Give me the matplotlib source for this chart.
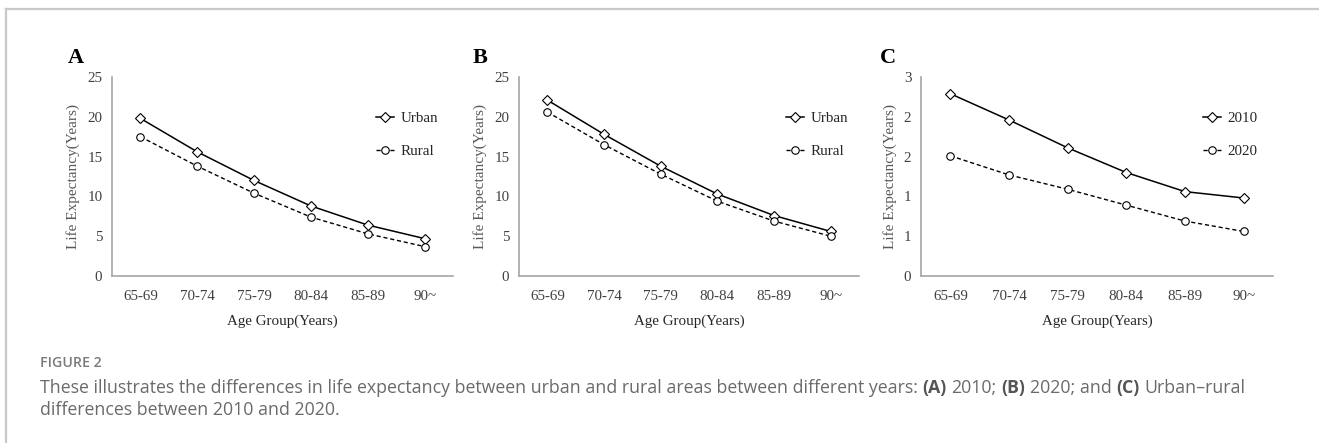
import matplotlib
matplotlib.use("Agg")
import matplotlib.pyplot as plt
from matplotlib.lines import Line2D

# ---- data ----
age_groups = ["65-69", "70-74", "75-79", "80-84", "85-89", "90~"]

urban_2010 = [19.8, 15.6, 12.0, 8.8, 6.4, 4.7]
rural_2010 = [17.5, 13.8, 10.4, 7.4, 5.3, 3.7]

urban_2020 = [22.1, 17.8, 13.8, 10.3, 7.6, 5.6]
rural_2020 = [20.6, 16.5, 12.8, 9.4, 6.9, 5.0]

diff_2010 = [2.29, 1.96, 1.61, 1.30, 1.06, 0.98]
diff_2020 = [1.51, 1.27, 1.09, 0.89, 0.69, 0.56]

ab_ticks = [0, 5, 10, 15, 20, 25]
ab_tick_labels = ["0", "5", "10", "15", "20", "25"]
c_ticks = [0, 0.5, 1.0, 1.5, 2.0, 2.5]
c_tick_labels = ["0", "1", "1", "2", "2", "3"]  # rounded as in the source

panels = [
    ("A", urban_2010, rural_2010, ("Urban", "Rural"), ab_ticks, ab_tick_labels),
    ("B", urban_2020, rural_2020, ("Urban", "Rural"), ab_ticks, ab_tick_labels),
    ("C", diff_2010, diff_2020, ("2010", "2020"), c_ticks, c_tick_labels),
]

W, H = 1319, 443
fig = plt.figure(figsize=(W / 100, H / 100), dpi=100)

# axes boxes in pixels: left, right, top, bottom
boxes = [(112, 453, 77, 276), (519, 859, 77, 276), (921, 1273, 77, 276)]
label_x = [76, 480, 888]
legend_x = [0.775, 0.786, 0.802]
ylabel_off = [32, 32, 24]

serif = "Liberation Serif"
axis_col = "#a6a6a6"
tick_col = "#404040"

for (tag, s1, s2, names, ticks, tlabels), (l, r, t, b), lx, lgx, yoff in zip(
        panels, boxes, label_x, legend_x, ylabel_off):
    ax = fig.add_axes([l / W, 1 - b / H, (r - l) / W, (b - t) / H])
    x = range(len(age_groups))
    ax.plot(x, s1, color="black", lw=1.1, marker="D", ms=4.8, mfc="white",
            mec="black", mew=0.8, label=names[0])
    ax.plot(x, s2, color="black", lw=1.0, ls=(0, (3, 2)), marker="o", ms=5.4,
            mfc="white", mec="black", mew=0.8, label=names[1])

    ax.set_xlim(-0.5, len(age_groups) - 0.5)
    ax.set_ylim(0, ticks[-1])
    ax.set_xticks(list(x))
    ax.set_xticklabels(age_groups, fontfamily=serif, fontsize=10.8, color=tick_col)
    ax.set_yticks(ticks)
    ax.set_yticklabels(tlabels, fontfamily=serif, fontsize=10.8, color=tick_col)
    ax.tick_params(axis="both", length=0)
    ax.tick_params(axis="x", pad=10)
    ax.tick_params(axis="y", pad=7)

    for side in ["top", "right"]:
        ax.spines[side].set_visible(False)
    for side in ["left", "bottom"]:
        ax.spines[side].set_color(axis_col)
        ax.spines[side].set_linewidth(1.2)
    ax.patch.set_visible(False)

    ax.set_ylabel("Life Expectancy(Years)", fontfamily=serif, fontsize=11,
                  color="#595959")
    ax.yaxis.set_label_coords(-yoff / (r - l), 0.5)
    ax.set_xlabel("Age Group(Years)", fontfamily=serif, fontsize=10.8,
                  color="#262626")
    ax.xaxis.set_label_coords(0.5, -(315 - b) / (b - t))

    leg = ax.legend(loc="upper left", bbox_to_anchor=(lgx, 0.825), frameon=False,
                    prop={"family": serif, "size": 10.8}, handlelength=1.2,
                    handletextpad=0.4, labelspacing=1.3, borderpad=0,
                    borderaxespad=0, numpoints=1)
    for txt in leg.get_texts():
        txt.set_color("#262626")

    fig.text(lx / W, 1 - 58 / H, tag, fontfamily=serif, fontweight="bold",
             fontsize=16, ha="center", va="center")

# outer frame (top and left edges visible)
fig.add_artist(Line2D([6 / W, 1], [1 - 9 / H, 1 - 9 / H], color="#c8c8c8", lw=1.6))
fig.add_artist(Line2D([6 / W, 6 / W], [0, 1 - 9 / H], color="#c8c8c8", lw=1.6))

# caption
cap_font = "Open Sans"
cap_col = "#6a6a6a"
cap_size = 12.8
fig.text(40 / W, 1 - 363 / H, "FIGURE 2", fontfamily=cap_font, fontsize=10.2,
         fontweight="semibold", color="#7a7a7a", va="center")

renderer = fig.canvas.get_renderer()


def text_width(s, weight):
    t = fig.text(0, 0, s, fontfamily=cap_font, fontsize=cap_size, fontweight=weight)
    w = t.get_window_extent(renderer).width
    t.remove()
    return w


space_w = text_width("x x", "normal") - text_width("xx", "normal")

pieces = [
    ("These illustrates the differences in life expectancy between urban and "
     "rural areas between different years:", "normal"),
    ("(A)", "bold"), ("2010;", "normal"), ("(B)", "bold"), ("2020; and", "normal"),
    ("(C)", "bold"), ("Urban\u2013rural", "normal"),
]
xpos = 40.0
for s, wgt in pieces:
    col = "#555555" if wgt == "bold" else cap_col
    t = fig.text(xpos / W, 1 - 388 / H, s, fontfamily=cap_font, fontsize=cap_size,
                 fontweight=wgt, color=col, va="center")
    xpos += t.get_window_extent(renderer).width + space_w

fig.text(40 / W, 1 - 410 / H, "differences between 2010 and 2020.",
         fontfamily=cap_font, fontsize=cap_size, color=cap_col, va="center")

fig.savefig("out.png", dpi=100)
